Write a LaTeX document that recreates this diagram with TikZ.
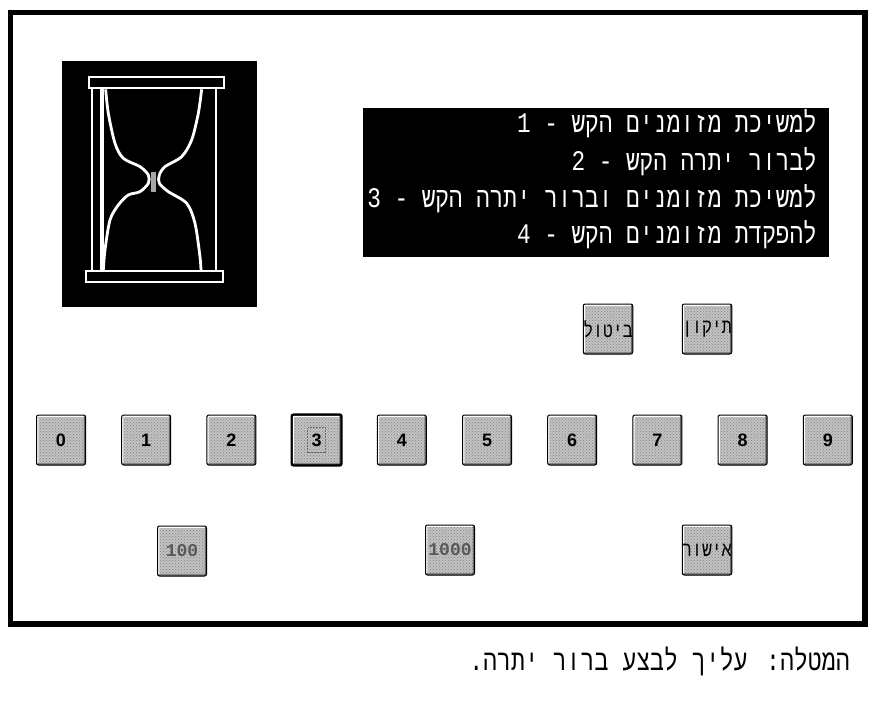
\documentclass[tikz,border=0pt]{standalone}
\usepackage{fontspec}
\usetikzlibrary{patterns}
\newfontfamily\hebfont[Script=Hebrew]{Liberation Mono}
\newfontfamily\keyfont{Liberation Sans}
\newfontfamily\monofont{Liberation Mono}
\TeXXeTstate=1
\newcommand{\heb}[1]{\scalebox{1}[1.25]{\hebfont\beginR #1\endR}}
\definecolor{keygrey}{gray}{0.76}
\tikzset{
	keybtn/.style={draw=black, line width=1pt, rounded corners=2pt, inner sep=0pt,
		minimum width=49pt, minimum height=50pt,
		preaction={fill=keygrey},
		pattern=crosshatch dots, pattern color=black!50,
		path picture={
			\draw[white, line width=3.5pt] (path picture bounding box.south west) -- (path picture bounding box.north west) -- (path picture bounding box.north east);
			\draw[black!60, line width=3.5pt] (path picture bounding box.south west) -- (path picture bounding box.south east) -- (path picture bounding box.north east);
		}},
	digitlabel/.style={font=\keyfont\fontsize{18}{18}\selectfont\bfseries},
	hebkey/.style={font=\fontsize{16.5}{17}\selectfont, text=black},
	numkey/.style={font=\monofont\fontsize{18}{18}\selectfont\bfseries, text=black!65},
	menuline/.style={anchor=base east, text=white, inner sep=0pt, font=\fontsize{22.7}{24}\selectfont},
	glassline/.style={draw=white, line width=2.5pt},
	sandline/.style={draw=white, line width=2.8pt, line join=round}
}
\begin{document}
\begin{tikzpicture}[x=1pt, y=-1pt]
	\useasboundingbox (0,0) rectangle (878,706);
	\draw[line width=5.5pt] (10.5,12.5) rectangle (865,624);

	\fill (62,61) rectangle (257,307);
	\draw[glassline] (89,77) rectangle (224,88);
	\draw[glassline] (86,271) rectangle (223,282);
	\draw[draw=white, line width=1.5pt] (92,89) -- (92,270);
	\draw[draw=white, line width=4.5pt] (102,89) -- (102,270);
	\draw[draw=white, line width=1.5pt] (216,89) -- (216,270);
	\begin{scope}[shift={(40,50)}, x=0.3333pt, y=-0.3333pt]
		\draw[sandline] plot[smooth] coordinates {(197,118) (205,190) (225,280) (250,325) (300,350) (325,375) (325,400) (300,425) (265,435) (235,465) (210,510) (195,600) (190,660)};
		\draw[sandline] plot[smooth] coordinates {(485,118) (475,190) (455,270) (425,320) (375,350) (358,375) (358,400) (385,425) (440,460) (465,520) (480,620) (483,660)};
		\fill[black!35!white] (333,366) rectangle (347,426);
	\end{scope}

	\fill (363,108) rectangle (829,257);
	\node[menuline] (m1) at (817,133) {\heb{למשיכת מזומנים הקש - 1}};
	\node[menuline] (m2) at (817,170) {\heb{לברור יתרה הקש - 2}};
	\node[menuline] (m3) at (817,207) {\heb{למשיכת מזומנים וברור יתרה הקש - 3}};
	\node[menuline] (m4) at (817,243) {\heb{להפקדת מזומנים הקש - 4}};

	\node[keybtn, hebkey] (cancel) at (608,329) {\heb{ביטול}};
	\node[keybtn, hebkey] (fix) at (707,329) {\heb{תיקון}};

	\foreach \n in {0,...,9}
	\node[keybtn, digitlabel] (k\n) at ({61+85.2*\n},440) {\n};
	\draw[line width=2.2pt, rounded corners=2pt] (k3.south west) rectangle (k3.north east);
	\node[draw=black!60, densely dotted, line width=0.5pt, minimum width=18pt, minimum height=25pt, inner sep=0pt] (focus) at (k3) {};

	\node[keybtn, numkey] (hundred) at (182,551) {100};
	\node[keybtn, numkey] (thousand) at (450,550) {1000};
	\node[keybtn, hebkey] (confirm) at (707,550) {\heb{אישור}};

	\node[anchor=base east, inner sep=0pt, font=\fontsize{23.2}{24}\selectfont] (task) at (850,670) {\heb{המטלה: עליך לבצע ברור יתרה.}};
\end{tikzpicture}
\end{document}
